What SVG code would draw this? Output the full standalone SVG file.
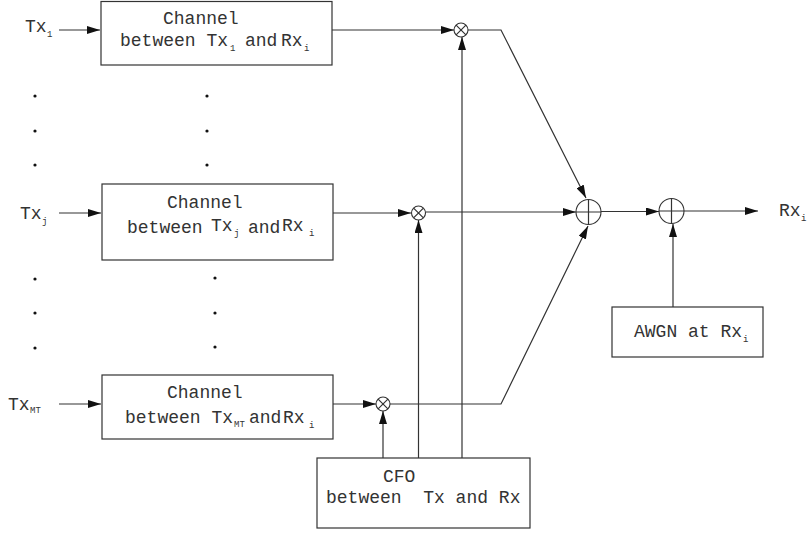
<svg xmlns="http://www.w3.org/2000/svg" width="807" height="534" viewBox="0 0 807 534">
<defs>
<marker id="ah" markerWidth="13" markerHeight="8" refX="13" refY="4" orient="auto" markerUnits="userSpaceOnUse">
<path d="M0,0 L13,4 L0,8 z" fill="#111"/>
</marker>
<style>
.box{fill:#fff;stroke:#333;stroke-width:1.2}
.ln{fill:none;stroke:#333;stroke-width:1.2}
.ar{fill:none;stroke:#333;stroke-width:1.2;marker-end:url(#ah)}
.op{fill:#fff;stroke:#333;stroke-width:1.1}
.t{font-family:"Liberation Mono","DejaVu Sans Mono",monospace;font-size:18px;fill:#333;white-space:pre}
.s{font-family:"Liberation Mono","DejaVu Sans Mono",monospace;font-size:9px;fill:#333}
.dot{fill:#111}
</style>
</defs>
<rect width="807" height="534" fill="#fff"/>

<g id="connectors">
<line class="ar" x1="59" y1="30" x2="100" y2="30"/>
<line class="ar" x1="59" y1="213" x2="101" y2="213"/>
<line class="ar" x1="59" y1="404" x2="101" y2="404"/>
<line class="ar" x1="332" y1="30" x2="454" y2="30"/>
<line class="ar" x1="333" y1="213" x2="411" y2="213"/>
<line class="ar" x1="333" y1="404" x2="376" y2="404"/>
<polyline class="ar" points="468,30 501,30 586,198"/>
<line class="ar" x1="425.5" y1="212" x2="576" y2="212"/>
<polyline class="ar" points="390,404 501,404 588,226"/>
<line class="ar" x1="601" y1="211.5" x2="659" y2="211.5"/>
<line class="ar" x1="684" y1="211" x2="758" y2="211"/>
<line class="ar" x1="673" y1="307" x2="673" y2="224"/>
<line class="ar" x1="462" y1="458" x2="462" y2="37"/>
<line class="ar" x1="418.5" y1="458" x2="418.5" y2="220"/>
<line class="ar" x1="383" y1="458" x2="383" y2="411"/>
</g>

<g id="tx1">
<text class="t" x="25" y="32">Tx</text><text class="s" x="47" y="37">1</text>
</g>
<g id="txj">
<text class="t" x="20" y="219">Tx</text><text class="s" x="42" y="224">j</text>
</g>
<g id="txmt">
<text class="t" x="8" y="410">Tx</text><text class="s" x="30" y="413">MT</text>
</g>

<g id="channel1">
<rect class="box" x="101" y="1.5" width="231" height="63.5"/>
<text class="t" x="163" y="24">Channel</text>
<text class="t" x="120" y="46">between Tx</text><text class="s" x="230" y="51">1</text>
<text class="t" x="245" y="46">and</text><text class="t" x="281" y="46">Rx</text><text class="s" x="304" y="51">i</text>
</g>

<g id="channelj">
<rect class="box" x="102" y="184" width="231" height="76"/>
<text class="t" x="167" y="208">Channel</text>
<text class="t" x="127" y="233">between</text><text class="t" x="211" y="231">Tx</text><text class="s" x="234" y="236">j</text>
<text class="t" x="248" y="233">and</text><text class="t" x="282" y="231">Rx</text><text class="s" x="309" y="236">i</text>
</g>

<g id="channelmt">
<rect class="box" x="102" y="375" width="231" height="64"/>
<text class="t" x="167" y="398">Channel</text>
<text class="t" x="125" y="423">between Tx</text><text class="s" x="234" y="427">MT</text>
<text class="t" x="249" y="423">and</text><text class="t" x="283" y="423">Rx</text><text class="s" x="309" y="428">i</text>
</g>

<g id="dots">
<circle class="dot" cx="35" cy="96" r="1.6"/>
<circle class="dot" cx="35" cy="131" r="1.6"/>
<circle class="dot" cx="35" cy="165" r="1.6"/>
<circle class="dot" cx="35" cy="279" r="1.6"/>
<circle class="dot" cx="35" cy="313" r="1.6"/>
<circle class="dot" cx="35" cy="348" r="1.6"/>
<circle class="dot" cx="207" cy="96" r="1.6"/>
<circle class="dot" cx="207" cy="131" r="1.6"/>
<circle class="dot" cx="207" cy="165" r="1.6"/>
<circle class="dot" cx="215" cy="278" r="1.6"/>
<circle class="dot" cx="215" cy="313" r="1.6"/>
<circle class="dot" cx="215" cy="347" r="1.6"/>
</g>

<g id="mult1">
<circle class="op" cx="461" cy="30" r="7"/>
<path class="ln" d="M456.1,25.1 L465.9,34.9 M465.9,25.1 L456.1,34.9" stroke-width="1"/>
</g>
<g id="mult2">
<circle class="op" cx="418.5" cy="213" r="7"/>
<path class="ln" d="M413.6,208.1 L423.4,217.9 M423.4,208.1 L413.6,217.9" stroke-width="1"/>
</g>
<g id="mult3">
<circle class="op" cx="383" cy="404" r="7"/>
<path class="ln" d="M378.1,399.1 L387.9,408.9 M387.9,399.1 L378.1,408.9" stroke-width="1"/>
</g>

<g id="adder1">
<circle class="op" cx="588.5" cy="212" r="12.5"/>
<path class="ln" d="M576,212 L601,212 M588.5,199.5 L588.5,224.5"/>
</g>
<g id="adder2">
<circle class="op" cx="671.5" cy="211" r="12.5"/>
<path class="ln" d="M659,211 L684,211 M671.5,198.5 L671.5,223.5"/>
</g>

<g id="rxi">
<text class="t" x="779" y="216">Rx</text><text class="s" x="801" y="221">i</text>
</g>

<g id="awgn">
<rect class="box" x="612" y="307" width="151" height="50"/>
<text class="t" x="634" y="337">AWGN at Rx</text><text class="s" x="743" y="342">i</text>
</g>

<g id="cfo">
<rect class="box" x="317" y="458" width="213" height="70"/>
<text class="t" x="383" y="482">CFO</text>
<text class="t" x="326" y="503">between  Tx and Rx</text>
</g>
</svg>
